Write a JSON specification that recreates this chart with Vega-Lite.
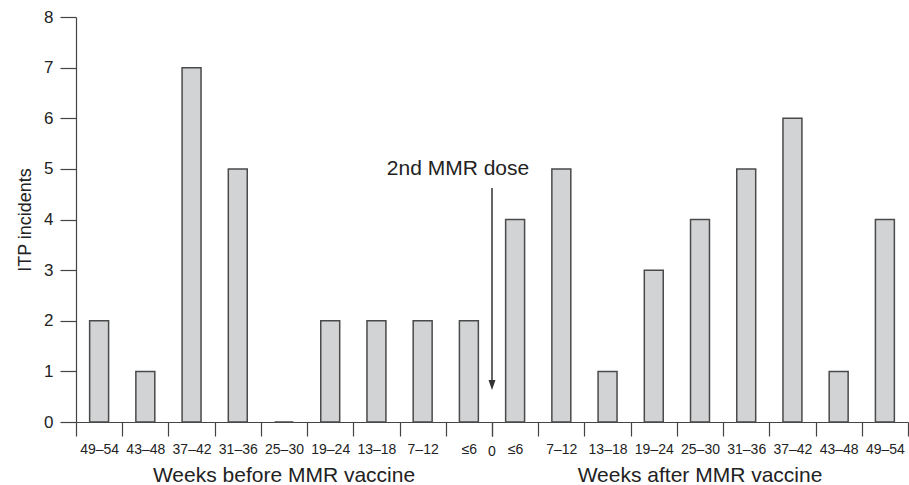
{
  "$schema": "https://vega.github.io/schema/vega-lite/v6.json",
  "padding": {"left": 16, "top": 8, "right": 0, "bottom": 0},
  "bounds": "flush",
  "config": {
    "font": "Liberation Sans",
    "view": {"stroke": null},
    "axis": {"grid": false, "domainColor": "#444", "tickColor": "#444", "labelColor": "#222", "titleColor": "#222", "domainWidth": 1.2, "tickWidth": 1.2}
  },
  "data": {
    "values": [
      {"phase": "Weeks before MMR vaccine", "weeks": "49–54", "count": 2},
      {"phase": "Weeks before MMR vaccine", "weeks": "43–48", "count": 1},
      {"phase": "Weeks before MMR vaccine", "weeks": "37–42", "count": 7},
      {"phase": "Weeks before MMR vaccine", "weeks": "31–36", "count": 5},
      {"phase": "Weeks before MMR vaccine", "weeks": "25–30", "count": 0},
      {"phase": "Weeks before MMR vaccine", "weeks": "19–24", "count": 2},
      {"phase": "Weeks before MMR vaccine", "weeks": "13–18", "count": 2},
      {"phase": "Weeks before MMR vaccine", "weeks": "7–12", "count": 2},
      {"phase": "Weeks before MMR vaccine", "weeks": "≤6", "count": 2},
      {"phase": "Weeks after MMR vaccine", "weeks": "≤6", "count": 4},
      {"phase": "Weeks after MMR vaccine", "weeks": "7–12", "count": 5},
      {"phase": "Weeks after MMR vaccine", "weeks": "13–18", "count": 1},
      {"phase": "Weeks after MMR vaccine", "weeks": "19–24", "count": 3},
      {"phase": "Weeks after MMR vaccine", "weeks": "25–30", "count": 4},
      {"phase": "Weeks after MMR vaccine", "weeks": "31–36", "count": 5},
      {"phase": "Weeks after MMR vaccine", "weeks": "37–42", "count": 6},
      {"phase": "Weeks after MMR vaccine", "weeks": "43–48", "count": 1},
      {"phase": "Weeks after MMR vaccine", "weeks": "49–54", "count": 4}
    ]
  },
  "facet": {
    "column": {
      "field": "phase",
      "type": "nominal",
      "sort": ["Weeks before MMR vaccine", "Weeks after MMR vaccine"],
      "header": {"title": null, "labelOrient": "bottom", "labelFontSize": 21, "labelPadding": 43, "labelColor": "#222", "labelFont": "Liberation Sans"}
    }
  },
  "spacing": {"column": 0},
  "resolve": {"scale": {"x": "independent"}},
  "spec": {
    "width": 416,
    "height": 405,
    "encoding": {
      "x": {
        "field": "weeks",
        "type": "nominal",
        "sort": null,
        "scale": {"paddingInner": 0, "paddingOuter": 0},
        "axis": {"title": null, "labelAngle": 0, "tickBand": "extent", "tickSize": 14, "labelFontSize": 14, "labelPadding": 6}
      }
    },
    "layer": [
      {
        "mark": {"type": "bar", "fill": "#d1d3d4", "stroke": "#4a4a4a", "strokeWidth": 1.5, "width": {"band": 0.41}},
        "encoding": {
          "y": {
            "field": "count",
            "type": "quantitative",
            "scale": {"domain": [0, 8], "nice": false},
            "axis": {"title": "ITP incidents", "titleFontSize": 18, "titleFontWeight": "normal", "titlePadding": 9, "labelFontSize": 17, "labelPadding": 7, "tickSize": 16, "values": [0, 1, 2, 3, 4, 5, 6, 7, 8]}
          }
        }
      },
      {
        "transform": [{"filter": "datum.phase === 'Weeks after MMR vaccine' && datum.weeks === '≤6'"}],
        "mark": {"type": "rule", "color": "#333", "strokeWidth": 1.5},
        "encoding": {
          "x": {"field": "weeks", "type": "nominal", "sort": null, "bandPosition": 0},
          "y": {"datum": 4.62},
          "y2": {"datum": 0.8}
        }
      },
      {
        "transform": [{"filter": "datum.phase === 'Weeks after MMR vaccine' && datum.weeks === '≤6'"}],
        "mark": {"type": "point", "shape": "M -0.7 -1 L 0.7 -1 L 0 1 Z", "filled": true, "color": "#333", "opacity": 1, "size": 100},
        "encoding": {
          "x": {"field": "weeks", "type": "nominal", "sort": null, "bandPosition": 0},
          "y": {"datum": 0.73}
        }
      },
      {
        "transform": [{"filter": "datum.phase === 'Weeks after MMR vaccine' && datum.weeks === '≤6'"}],
        "mark": {"type": "text", "text": "2nd MMR dose", "fontSize": 21, "align": "center", "baseline": "alphabetic", "dx": -34, "color": "#222"},
        "encoding": {
          "x": {"field": "weeks", "type": "nominal", "sort": null, "bandPosition": 0},
          "y": {"datum": 4.88}
        }
      },
      {
        "transform": [{"filter": "datum.phase === 'Weeks after MMR vaccine' && datum.weeks === '≤6'"}],
        "mark": {"type": "text", "text": "0", "fontSize": 14, "align": "center", "baseline": "alphabetic", "color": "#222"},
        "encoding": {
          "x": {"field": "weeks", "type": "nominal", "sort": null, "bandPosition": 0},
          "y": {"datum": -0.67}
        }
      }
    ]
  }
}
